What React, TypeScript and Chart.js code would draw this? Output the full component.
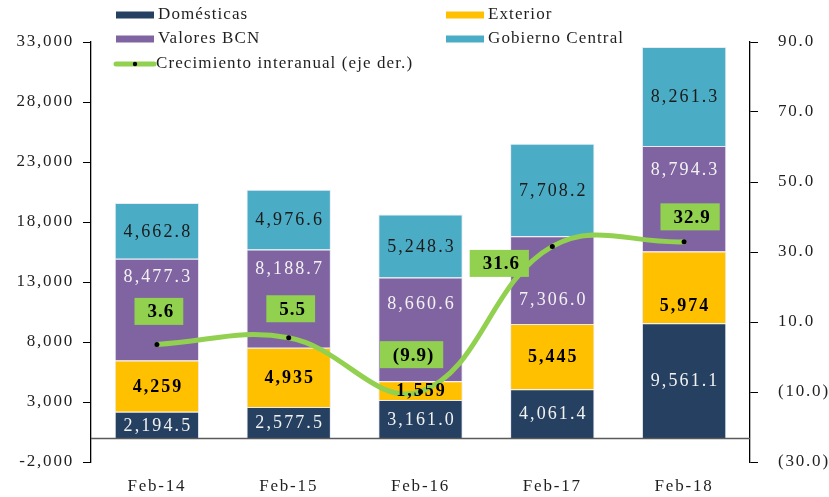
import React, { useEffect, useRef } from "react";
import { Chart, registerables } from "chart.js";

Chart.register(...registerables);

// ---------- data ----------
const categories = ["Feb-14", "Feb-15", "Feb-16", "Feb-17", "Feb-18"];
const domesticas = [2194.5, 2577.5, 3161.0, 4061.4, 9561.1];
const exterior = [4259, 4935, 1559, 5445, 5974];
const valoresBCN = [8477.3, 8188.7, 8660.6, 7306.0, 8794.3];
const gobiernoCentral = [4662.8, 4976.6, 5248.3, 7708.2, 8261.3];
const crecimiento = [3.6, 5.5, -9.9, 31.6, 32.9];
const leftTickValues = [-2000, 3000, 8000, 13000, 18000, 23000, 28000, 33000];
const rightTickValues = [-30, -10, 10, 30, 50, 70, 90];

const FONT = "'Liberation Serif', 'Times New Roman', serif";
const TEXT = "#1f1f1f";

const fmt1 = (v: number) =>
  v.toLocaleString("en-US", { minimumFractionDigits: 1, maximumFractionDigits: 1 });
const fmt0 = (v: number) => v.toLocaleString("en-US", { maximumFractionDigits: 0 });
const fmtGrowth = (v: number) => (v < 0 ? `(${Math.abs(v).toFixed(1)})` : v.toFixed(1));

const spacingPlugin = {
  id: "spacing",
  beforeUpdate(chart: any) {
    chart.ctx.letterSpacing = "1.8px";
  },
  beforeLayout(chart: any) {
    chart.ctx.letterSpacing = "1.8px";
  },
  beforeDraw(chart: any) {
    chart.ctx.letterSpacing = "1.8px";
  },
};

const labelsPlugin = {
  id: "customLabels",
  afterDatasetsDraw(chart: any, _args: any, opts: any) {
    const ctx = chart.ctx;
    const ys = chart.scales.y;
    const ca = chart.chartArea;
    ctx.save();
    // zero line
    const y0 = Math.round(ys.getPixelForValue(0)) + 0.5;
    ctx.strokeStyle = "#5a5a5a";
    ctx.lineWidth = 1.3;
    ctx.beginPath();
    ctx.moveTo(ca.left, y0);
    ctx.lineTo(ca.right, y0);
    ctx.stroke();

    // bar segment labels
    chart.data.datasets.forEach((ds: any, di: number) => {
      if (ds.type === "line") return;
      const meta = chart.getDatasetMeta(di);
      const st = ds.labelStyle;
      meta.data.forEach((el: any, i: number) => {
        const p = el.getProps(["x", "y", "base"], true);
        const off = (st.offsets && st.offsets[i]) || 0;
        const v = ds.data[i];
        const text = st.decimals === 0 ? fmt0(v) : fmt1(v);
        ctx.font = `${st.bold ? "bold " : ""}${st.size}px ${FONT}`;
        ctx.letterSpacing = st.spacing;
        ctx.fillStyle = st.color;
        ctx.textAlign = "center";
        ctx.textBaseline = "middle";
        ctx.fillText(text, p.x + 1, (p.y + p.base) / 2 + off + 1);
      });
    });

    // growth boxes
    chart.data.datasets.forEach((ds: any, di: number) => {
      if (ds.type !== "line") return;
      const meta = chart.getDatasetMeta(di);
      meta.data.forEach((el: any, i: number) => {
        const [dx, dy] = opts.growthOffsets[i];
        const text = fmtGrowth(ds.data[i]);
        ctx.font = `bold 19px ${FONT}`;
        ctx.letterSpacing = "1px";
        const w = ctx.measureText(text).width + 22;
        const h = 27;
        const cx = el.x + dx;
        const cy = el.y + dy;
        ctx.fillStyle = "#92D050";
        ctx.fillRect(cx - w / 2, cy - h / 2, w, h);
        ctx.fillStyle = "#000";
        ctx.textAlign = "center";
        ctx.textBaseline = "middle";
        ctx.fillText(text, cx + 2, cy + 1);
      });
    });
    ctx.restore();
  },
};

const legendPlugin = {
  id: "customLegend",
  afterDraw(chart: any, _args: any, opts: any) {
    const ctx = chart.ctx;
    ctx.save();
    ctx.font = `17px ${FONT}`;
    ctx.letterSpacing = "1.1px";
    ctx.textBaseline = "middle";
    ctx.textAlign = "left";
    chart.data.datasets.forEach((ds: any, di: number) => {
      const pos = opts.positions[di];
      if (!pos) return;
      if (ds.type === "line") {
        ctx.strokeStyle = ds.borderColor;
        ctx.lineWidth = 5;
        ctx.lineCap = "round";
        ctx.beginPath();
        ctx.moveTo(pos.x + 2, pos.y);
        ctx.lineTo(pos.x + 40, pos.y);
        ctx.stroke();
        ctx.fillStyle = "#000";
        ctx.beginPath();
        ctx.arc(pos.x + 21, pos.y, 2.2, 0, Math.PI * 2);
        ctx.fill();
      } else {
        ctx.fillStyle = ds.backgroundColor;
        ctx.fillRect(pos.x, pos.y - 3.5, 38, 7);
      }
      ctx.fillStyle = TEXT;
      ctx.fillText(ds.label, pos.x + 42, pos.y);
    });
    ctx.restore();
  },
};

export default function App() {
  const canvasRef = useRef<HTMLCanvasElement | null>(null);

  useEffect(() => {
    if (!canvasRef.current) return;
    const barBorder = "rgba(230,230,240,0.85)";
    const chart = new Chart(canvasRef.current, {
      type: "bar",
      data: {
        labels: categories,
        datasets: [
          {
            type: "bar",
            label: "Domésticas",
            data: domesticas,
            backgroundColor: "#254061",
            borderColor: barBorder,
            borderWidth: 1,
            yAxisID: "y",
            order: 1,
            labelStyle: { color: "#f2f2f2", size: 18, bold: false, decimals: 1, spacing: "2.1px" },
          } as any,
          {
            type: "bar",
            label: "Exterior",
            data: exterior,
            backgroundColor: "#FFC000",
            borderColor: barBorder,
            borderWidth: 1,
            yAxisID: "y",
            order: 1,
            labelStyle: {
              color: "#000",
              size: 18,
              bold: true,
              decimals: 0,
              spacing: "2px",
              offsets: [0, 0, 0, 0, 18],
            },
          } as any,
          {
            type: "bar",
            label: "Valores BCN",
            data: valoresBCN,
            backgroundColor: "#8064A2",
            borderColor: barBorder,
            borderWidth: 1,
            yAxisID: "y",
            order: 1,
            labelStyle: {
              color: "#f2f2f2",
              size: 18,
              bold: false,
              decimals: 1,
              spacing: "2.1px",
              offsets: [-33, -30, -26, 19, -30],
            },
          } as any,
          {
            type: "bar",
            label: "Gobierno Central",
            data: gobiernoCentral,
            backgroundColor: "#4BACC6",
            borderColor: barBorder,
            borderWidth: 1,
            yAxisID: "y",
            order: 1,
            labelStyle: { color: "#1a1a1a", size: 18, bold: false, decimals: 1, spacing: "2.1px" },
          } as any,
          {
            type: "line",
            label: "Crecimiento interanual (eje der.)",
            data: crecimiento,
            borderColor: "#92D050",
            backgroundColor: "#92D050",
            borderWidth: 5,
            borderCapStyle: "round",
            tension: 0.4,
            pointRadius: 2.5,
            pointBackgroundColor: "#000",
            pointBorderWidth: 0,
            yAxisID: "y1",
            order: 0,
            clip: false,
          } as any,
        ],
      },
      options: {
        responsive: false,
        animation: false,
        devicePixelRatio: 1,
        layout: { padding: { top: 42, left: 0, right: 0, bottom: 0 } },
        datasets: {
          bar: { categoryPercentage: 1, barPercentage: 0.64 },
        },
        plugins: {
          legend: { display: false },
          tooltip: { enabled: false },
          customLabels: {
            growthOffsets: [
              [2, -33],
              [2, -29],
              [-9, -37],
              [-53, 17],
              [6, -25],
            ],
          },
          customLegend: {
            positions: [
              { x: 116, y: 15 },
              { x: 446, y: 15 },
              { x: 116, y: 39 },
              { x: 446, y: 39 },
              { x: 114, y: 64 },
            ],
          },
        } as any,
        scales: {
          x: {
            stacked: true,
            grid: { display: false },
            border: { display: false },
            ticks: { color: TEXT, font: { family: FONT, size: 17 }, padding: 6 },
            afterFit: (s: any) => {
              s.height = 35;
            },
          },
          y: {
            stacked: true,
            position: "left",
            min: -2000,
            max: 33000,
            afterBuildTicks: (s: any) => {
              s.ticks = leftTickValues.map((v) => ({ value: v }));
            },
            grid: { display: true, drawOnChartArea: false, drawTicks: true, tickLength: 8, color: "#000", lineWidth: 1 },
            border: { display: true, color: "#000", width: 1.3 },
            ticks: {
              color: TEXT,
              font: { family: FONT, size: 17 },
              padding: 9,
              callback: (v: any) => Number(v).toLocaleString("en-US"),
            },
            afterFit: (s: any) => {
              s.width = 91;
            },
          },
          y1: {
            position: "right",
            min: -30,
            max: 90,
            afterBuildTicks: (s: any) => {
              s.ticks = rightTickValues.map((v) => ({ value: v }));
            },
            grid: { display: true, drawOnChartArea: false, drawTicks: true, tickLength: 8, color: "#000", lineWidth: 1 },
            border: { display: true, color: "#000", width: 1.3 },
            ticks: {
              color: TEXT,
              font: { family: FONT, size: 17 },
              padding: 20,
              callback: (v: any) => fmtGrowth(Number(v)),
            },
            afterFit: (s: any) => {
              s.width = 79;
            },
          },
        },
      },
      plugins: [spacingPlugin, labelsPlugin, legendPlugin],
    });
    return () => chart.destroy();
  }, []);

  return (
    <div style={{ position: "fixed", left: 0, top: 0, width: 829, height: 497, background: "#fff" }}>
      <canvas ref={canvasRef} width={829} height={497} />
    </div>
  );
}
